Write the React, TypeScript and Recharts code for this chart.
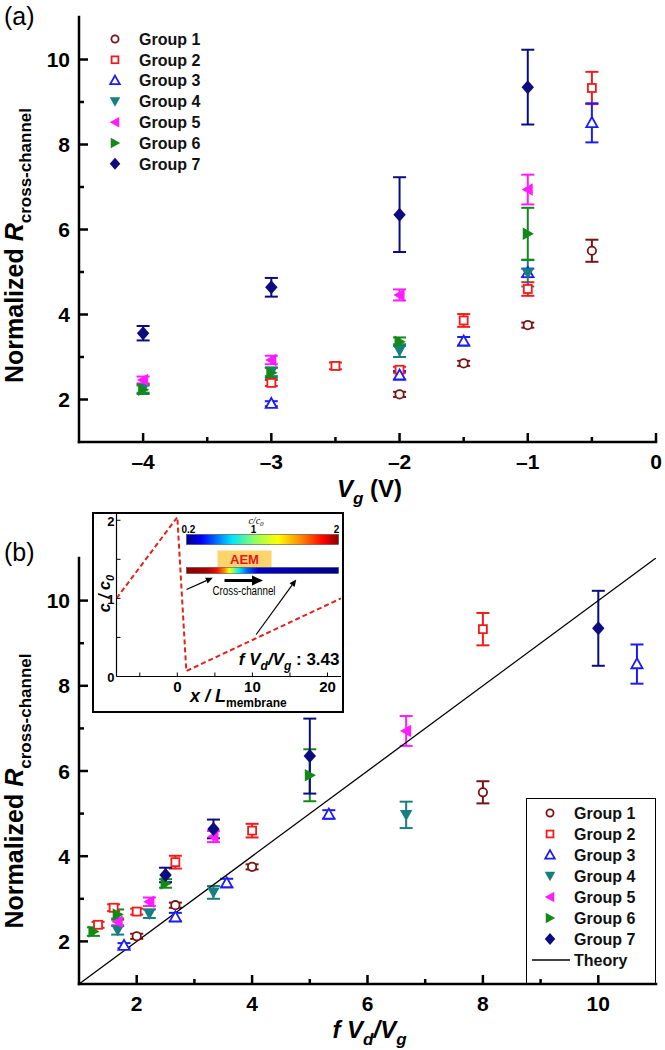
import React from "react";
import { ScatterChart, Scatter, XAxis, YAxis, ErrorBar, Legend } from "recharts";

const FONT = "'Liberation Sans', Arial, Helvetica, sans-serif";

const GROUP_NAMES = ["Group 1", "Group 2", "Group 3", "Group 4", "Group 5", "Group 6", "Group 7"];
const GROUP_COLORS = ["#7a1414", "#f01c1c", "#1c1cf5", "#17807f", "#ff1cff", "#14891a", "#0c0c7e"];
const GROUP_SHAPES = ["circle", "square", "up", "down", "left", "right", "diamond"];

// gate voltage (panel a)
const VG_1 = [-2, -1.5, -1, -0.5];
const VG_2 = [-3, -2.5, -2, -1.5, -1, -0.5];
const VG_3 = [-3, -2, -1.5, -1, -0.5];
const VG_4 = [-4, -3, -2, -1];
const VG_5 = [-4, -3, -2, -1];
const VG_6 = [-4, -3, -2, -1];
const VG_7 = [-4, -3, -2, -1];

// f Vd/Vg (panel b)
const RATIO_1 = [2, 2.67, 4, 8];
const RATIO_2 = [1.33, 1.6, 2, 2.67, 4, 8];
const RATIO_3 = [1.78, 2.67, 3.56, 5.33, 10.67];
const RATIO_4 = [1.67, 2.22, 3.33, 6.67];
const RATIO_5 = [1.67, 2.22, 3.33, 6.67];
const RATIO_6 = [1.25, 1.67, 2.5, 5];
const RATIO_7 = [2.5, 3.33, 5, 10];

// normalized R cross-channel
const R_1 = [2.12, 2.85, 3.75, 5.5];
const R_2 = [2.39, 2.79, 2.7, 3.86, 4.6, 9.33];
const R_3 = [1.9, 2.57, 3.37, 4.98, 8.51];
const R_4 = [2.26, 2.65, 3.15, 4.97];
const R_5 = [2.46, 2.93, 4.46, 6.94];
const R_6 = [2.23, 2.63, 3.36, 5.9];
const R_7 = [3.56, 4.64, 6.35, 9.35];

// error bars (half height)
const ERR_1 = [0.06, 0.06, 0.06, 0.26];
const ERR_2 = [0.07, 0.08, 0.07, 0.15, 0.16, 0.38];
const ERR_3 = [0.06, 0.1, 0.1, 0.1, 0.46];
const ERR_4 = [0.1, 0.1, 0.15, 0.31];
const ERR_5 = [0.08, 0.1, 0.13, 0.35];
const ERR_6 = [0.1, 0.12, 0.1, 0.61];
const ERR_7 = [0.17, 0.22, 0.88, 0.88];

const THEORY_X = [1, 11];
const THEORY_Y = [1, 11];

// inset concentration profile
const INSET_X = [-8.1, 0, 1.2, 21.8];
const INSET_Y = [1.0, 2.04, 0.07, 1.0];

const TICKS_VG = [-4, -3.5, -3, -2.5, -2, -1.5, -1, -0.5, 0];
const TICKS_RATIO = [2, 3, 4, 5, 6, 7, 8, 9, 10];
const TICKS_R = [2, 3, 4, 5, 6, 7, 8, 9, 10];
const INSET_X_TICKS = [-5, 0, 5, 10, 15, 20];
const INSET_Y_TICKS = [0, 0.5, 1, 1.5, 2];

const VG = [VG_1, VG_2, VG_3, VG_4, VG_5, VG_6, VG_7];
const RATIO = [RATIO_1, RATIO_2, RATIO_3, RATIO_4, RATIO_5, RATIO_6, RATIO_7];
const R = [R_1, R_2, R_3, R_4, R_5, R_6, R_7];
const ERR = [ERR_1, ERR_2, ERR_3, ERR_4, ERR_5, ERR_6, ERR_7];

const seriesA = VG.map((xs, g) => xs.map((x, i) => ({ x, y: R[g][i], e: ERR[g][i] })));
const seriesB = RATIO.map((xs, g) => xs.map((x, i) => ({ x, y: R[g][i], e: ERR[g][i] })));
const theory = THEORY_X.map((x, i) => ({ x, y: THEORY_Y[i] }));
const insetProfile = INSET_X.map((x, i) => ({ x, y: INSET_Y[i] }));

const FRAME = { stroke: "#000", strokeWidth: 2.5, strokeLinecap: "square" as const };
const THIN = { stroke: "#000", strokeWidth: 1.2 };

function pts(list: number[][], cx: number, cy: number, s: number) {
  return list.map(([dx, dy]) => `${cx + dx * s},${cy + dy * s}`).join(" ");
}

function Marker({ kind, cx, cy, color, s = 1 }: { kind: string; cx: number; cy: number; color: string; s?: number }) {
  const sw = 1.8;
  switch (kind) {
    case "circle":
      return <circle cx={cx} cy={cy} r={4.2 * s} fill="#fff" stroke={color} strokeWidth={sw} />;
    case "square":
      return <rect x={cx - 4 * s} y={cy - 4 * s} width={8 * s} height={8 * s} fill="#fff" stroke={color} strokeWidth={sw} />;
    case "up":
      return <polygon points={pts([[0, -5.8], [5.6, 4.2], [-5.6, 4.2]], cx, cy, s)} fill="#fff" stroke={color} strokeWidth={sw} />;
    case "down":
      return <polygon points={pts([[-6.2, -5], [6.2, -5], [0, 6.2]], cx, cy, s)} fill={color} />;
    case "left":
      return <polygon points={pts([[-6.2, 0], [5, -6.2], [5, 6.2]], cx, cy, s)} fill={color} />;
    case "right":
      return <polygon points={pts([[6.2, 0], [-5, -6.2], [-5, 6.2]], cx, cy, s)} fill={color} />;
    default:
      return <polygon points={pts([[0, -7], [6.2, 0], [0, 7], [-6.2, 0]], cx, cy, s)} fill={color} />;
  }
}

type TickOpts = {
  isMajor: (v: number) => boolean;
  major: number;
  minor: number;
  sw: number;
  label?: boolean;
  fmt?: (v: number) => string;
  fs?: number;
  gap?: number;
  vshift?: number;
};

const frameTick = (side: string, o: TickOpts) => (p: any) => {
  const { x, y } = p;
  const v = p.payload.value;
  const big = o.isMajor(v);
  const len = big ? o.major : o.minor;
  const fs = o.fs || 20;
  const gap = o.gap || 0;
  const txt = o.fmt ? o.fmt(v) : String(v);
  let line = null;
  let label = null;
  if (side === "left") {
    line = <line x1={x} x2={x + len} y1={y} y2={y} />;
    if (o.label && big)
      label = <text x={x - gap} y={y + fs * (o.vshift || 0.36)} textAnchor="end">{txt}</text>;
  } else if (side === "right") {
    line = <line x1={x - len} x2={x} y1={y} y2={y} />;
  } else if (side === "bottom") {
    line = <line x1={x} x2={x} y1={y - len} y2={y} />;
    if (o.label && big)
      label = <text x={x} y={y + gap} textAnchor="middle">{txt}</text>;
  } else {
    line = <line x1={x} x2={x} y1={y} y2={y + len} />;
  }
  return (
    <g stroke="#000" strokeWidth={o.sw} fontFamily={FONT} fontWeight="bold" fontSize={fs}>
      {line}
      {label && React.cloneElement(label, { stroke: "none", fill: "#000" })}
    </g>
  );
};

const fmtDash = (v: number) => (v < 0 ? "\u2013" + Math.abs(v) : String(v));
const evenMajor = (v: number) => v % 2 === 0;
const intMajor = (v: number) => Number.isInteger(v);

function YTitle({ vb, shift }: { vb: any; shift: number }) {
  const cx = 23;
  const cy = vb.y + vb.height / 2 + shift;
  return (
    <text x={cx} y={cy} transform={`rotate(-90, ${cx}, ${cy})`} textAnchor="middle" fontFamily={FONT} fontWeight="bold" fontSize={25}>
      <tspan>Normalized </tspan>
      <tspan fontStyle="italic">R</tspan>
      <tspan fontSize={17} dy={8}>cross-channel</tspan>
    </text>
  );
}

function XTitleA({ vb }: { vb: any }) {
  return (
    <text x={vb.x + vb.width / 2 + 2} y={vb.y + 55} textAnchor="middle" fontFamily={FONT} fontWeight="bold" fontSize={24}>
      <tspan fontStyle="italic">V</tspan>
      <tspan fontStyle="italic" fontSize={17} dy={7}>g</tspan>
      <tspan dy={-7}> (V)</tspan>
    </text>
  );
}

function XTitleB({ vb }: { vb: any }) {
  return (
    <text x={vb.x + vb.width / 2 + 2} y={vb.y + 54} textAnchor="middle" fontFamily={FONT} fontWeight="bold" fontStyle="italic" fontSize={24}>
      <tspan>f  V</tspan>
      <tspan fontSize={17} dy={7}>d</tspan>
      <tspan dy={-7}>/V</tspan>
      <tspan fontSize={17} dy={7}>g</tspan>
    </text>
  );
}

function LegendRows({ mx, tx, y0, dy, fs, s }: { mx: number; tx: number; y0: number; dy: number; fs: number; s: number }) {
  return (
    <>
      {GROUP_NAMES.map((name, g) => (
        <g key={name}>
          <Marker kind={GROUP_SHAPES[g]} cx={mx} cy={y0 + g * dy} color={GROUP_COLORS[g]} s={s} />
          <text x={tx} y={y0 + g * dy + fs * 0.36} fontFamily={FONT} fontWeight="bold" fontSize={fs} fill="#111">
            {name}
          </text>
        </g>
      ))}
    </>
  );
}

function LegendA() {
  return (
    <svg width={120} height={160} style={{ display: "block" }}>
      <LegendRows mx={15} tx={39} y0={12} dy={20.8} fs={16} s={0.85} />
    </svg>
  );
}

function LegendB() {
  return (
    <div style={{ width: 130, height: 186, border: "1.5px solid #000", boxSizing: "border-box" }}>
      <svg width={128} height={184} style={{ display: "block" }}>
        <LegendRows mx={23} tx={47} y0={14} dy={21} fs={16} s={0.85} />
        <line x1={5} x2={43} y1={161} y2={161} stroke="#000" strokeWidth={1.3} />
        <text x={47} y={161 + 16 * 0.36} fontFamily={FONT} fontWeight="bold" fontSize={16} fill="#111">
          Theory
        </text>
      </svg>
    </div>
  );
}

function groupSeries(data: { x: number; y: number; e: number }[][]) {
  return data.map((d, g) => (
    <Scatter
      key={GROUP_NAMES[g]}
      name={GROUP_NAMES[g]}
      data={d}
      isAnimationActive={false}
      shape={(p: any) => <Marker kind={GROUP_SHAPES[g]} cx={p.cx} cy={p.cy} color={GROUP_COLORS[g]} />}
    >
      <ErrorBar dataKey="e" direction="y" width={6.5} stroke={GROUP_COLORS[g]} strokeWidth={2} />
    </Scatter>
  ));
}

function frameAxes(xDomain: number[], xTicks: number[], xMajor: (v: number) => boolean, xHeight: number, xTitle: any, yShift: number) {
  const big = { major: 9, minor: 5, sw: 2.5 };
  return [
    <XAxis
      key="xb"
      type="number"
      dataKey="x"
      domain={xDomain}
      allowDataOverflow
      ticks={xTicks}
      interval={0}
      height={xHeight}
      tickSize={0}
      tickMargin={0}
      tickLine={false}
      axisLine={FRAME}
      tick={frameTick("bottom", { ...big, isMajor: xMajor, label: true, fmt: fmtDash, fs: 21, gap: 27 })}
      label={(p: any) => xTitle(p.viewBox)}
    />,
    <XAxis
      key="xt"
      xAxisId="t"
      orientation="top"
      type="number"
      dataKey="x"
      domain={xDomain}
      allowDataOverflow
      ticks={xTicks}
      interval={0}
      height={0}
      tickSize={0}
      tickMargin={0}
      tickLine={false}
      axisLine={FRAME}
      tick={frameTick("top", { ...big, isMajor: xMajor })}
    />,
    <YAxis
      key="yl"
      type="number"
      dataKey="y"
      domain={[1, 11]}
      allowDataOverflow
      ticks={TICKS_R}
      interval={0}
      width={79}
      tickSize={0}
      tickMargin={0}
      tickLine={false}
      axisLine={FRAME}
      tick={frameTick("left", { ...big, isMajor: evenMajor, label: true, fs: 21, gap: 9 })}
      label={(p: any) => <YTitle vb={p.viewBox} shift={yShift} />}
    />,
    <YAxis
      key="yr"
      yAxisId="r"
      orientation="right"
      type="number"
      dataKey="y"
      domain={[1, 11]}
      allowDataOverflow
      ticks={TICKS_R}
      interval={0}
      width={0}
      tickSize={0}
      tickMargin={0}
      tickLine={false}
      axisLine={FRAME}
      tick={frameTick("right", { ...big, isMajor: evenMajor })}
    />,
  ];
}

function PanelA() {
  return (
    <ScatterChart width={665} height={512} margin={{ top: 17, right: 9, bottom: 0, left: 0 }}>
      {frameAxes([-4.5, 0], TICKS_VG, intMajor, 70, (vb: any) => <XTitleA vb={vb} />, 16)}
      {groupSeries(seriesA)}
      <Legend
        layout="vertical"
        align="center"
        verticalAlign="middle"
        wrapperStyle={{ left: 100, top: 27, width: 120 }}
        content={() => <LegendA />}
      />
    </ScatterChart>
  );
}

function PanelB() {
  return (
    <ScatterChart width={665} height={550} margin={{ top: 58, right: 9, bottom: 0, left: 0 }}>
      {frameAxes([1, 11], TICKS_RATIO, evenMajor, 66, (vb: any) => <XTitleB vb={vb} />, 20)}
      <Scatter
        name="Theory"
        data={theory}
        isAnimationActive={false}
        line={{ stroke: "#000", strokeWidth: 1.3 }}
        shape={() => <g />}
      />
      {groupSeries(seriesB)}
      <Legend
        layout="vertical"
        align="center"
        verticalAlign="middle"
        wrapperStyle={{ left: 526, top: 298, width: 130 }}
        content={() => <LegendB />}
      />
    </ScatterChart>
  );
}

function Arrow({ x1, y1, x2, y2, w, head }: { x1: number; y1: number; x2: number; y2: number; w: number; head: number }) {
  const a = Math.atan2(y2 - y1, x2 - x1);
  const bx = x2 - Math.cos(a) * head;
  const by = y2 - Math.sin(a) * head;
  const hw = head * 0.45;
  const p1 = `${bx + Math.sin(a) * hw},${by - Math.cos(a) * hw}`;
  const p2 = `${bx - Math.sin(a) * hw},${by + Math.cos(a) * hw}`;
  return (
    <g>
      <line x1={x1} y1={y1} x2={bx} y2={by} stroke="#000" strokeWidth={w} />
      <polygon points={`${x2},${y2} ${p1} ${p2}`} fill="#000" />
    </g>
  );
}

function InsetDecor() {
  return (
    <svg width={247} height={196} style={{ position: "absolute", left: 0, top: 0, pointerEvents: "none" }}>
      <defs>
        <linearGradient id="jet" x1="0" x2="1" y1="0" y2="0">
          <stop offset="0" stopColor="#00008b" />
          <stop offset="0.1" stopColor="#0000ff" />
          <stop offset="0.3" stopColor="#00e5ff" />
          <stop offset="0.45" stopColor="#90ff60" />
          <stop offset="0.6" stopColor="#ffff00" />
          <stop offset="0.75" stopColor="#ff8a00" />
          <stop offset="0.9" stopColor="#ff0000" />
          <stop offset="1" stopColor="#8b0000" />
        </linearGradient>
        <linearGradient id="chan" x1="0" x2="1" y1="0" y2="0">
          <stop offset="0" stopColor="#8b0000" />
          <stop offset="0.13" stopColor="#a80000" />
          <stop offset="0.2" stopColor="#e81010" />
          <stop offset="0.25" stopColor="#ff8a00" />
          <stop offset="0.28" stopColor="#ffff00" />
          <stop offset="0.31" stopColor="#80ff80" />
          <stop offset="0.35" stopColor="#00e0ff" />
          <stop offset="0.4" stopColor="#0060ff" />
          <stop offset="0.47" stopColor="#0000c8" />
          <stop offset="1" stopColor="#00008b" />
        </linearGradient>
      </defs>
      <text x={162} y={9.5} fontFamily="'Liberation Serif', serif" fontStyle="italic" fontSize={10} textAnchor="middle">
        c/c<tspan fontSize={7} dy={2}>0</tspan>
      </text>
      <text x={87.5} y={18.5} fontFamily={FONT} fontWeight="bold" fontSize={10}>0.2</text>
      <text x={159.5} y={18.5} fontFamily={FONT} fontWeight="bold" fontSize={10} textAnchor="middle">1</text>
      <text x={242.5} y={18.5} fontFamily={FONT} fontWeight="bold" fontSize={10} textAnchor="middle">2</text>
      <rect x={92.5} y={20.5} width={152} height={10} fill="url(#jet)" stroke="#333" strokeWidth={0.5} />
      <rect x={123.5} y={36.5} width={54} height={17} fill="#fdd36e" />
      <text x={150.5} y={49.5} fontFamily={FONT} fontWeight="bold" fontSize={13} fill="#e8141c" textAnchor="middle">AEM</text>
      <rect x={92.5} y={53.5} width={152} height={6} fill="url(#chan)" stroke="#333" strokeWidth={0.5} />
      <Arrow x1={130.5} y1={66.5} x2={169} y2={66.5} w={3} head={11} />
      <text x={150} y={80.5} fontFamily="'Liberation Sans Narrow', 'Arial Narrow', sans-serif" fontSize={12} textAnchor="middle" textLength={63} lengthAdjust="spacingAndGlyphs">
        Cross-channel
      </text>
      <Arrow x1={92.5} y1={75.5} x2={118.8} y2={63.8} w={1.2} head={7} />
      <Arrow x1={162.2} y1={120.5} x2={202.2} y2={65.5} w={1.2} head={7} />
      <text x={245.5} y={150.5} fontFamily={FONT} fontWeight="bold" fontSize={17} textAnchor="end">
        <tspan fontStyle="italic">f  V</tspan>
        <tspan fontStyle="italic" fontSize={12} dy={5}>d</tspan>
        <tspan fontStyle="italic" dy={-5}>/V</tspan>
        <tspan fontStyle="italic" fontSize={12} dy={5}>g</tspan>
        <tspan dy={-5}> : 3.43</tspan>
      </text>
      <text x={15.5} y={79.5} transform="rotate(-90, 15.5, 79.5)" fontFamily={FONT} fontWeight="bold" fontStyle="italic" fontSize={16} textAnchor="middle">
        c / c<tspan fontSize={11} dy={4}>0</tspan>
      </text>
      <text x={96} y={187.5} fontFamily={FONT} fontWeight="bold" fontSize={18}>
        <tspan fontStyle="italic">x / L</tspan>
        <tspan fontSize={12} dy={5}>membrane</tspan>
      </text>
    </svg>
  );
}

function Inset() {
  const small = { major: 4, minor: 4, sw: 1 };
  return (
    <div
      style={{
        position: "absolute",
        left: 92,
        top: 512,
        width: 252,
        height: 201,
        border: "2.5px solid #000",
        boxSizing: "border-box",
        background: "#fff",
      }}
    >
      <ScatterChart width={247} height={196} margin={{ top: 0, right: 0, bottom: 0, left: 0 }}>
        <XAxis
          type="number"
          dataKey="x"
          domain={[-8.1, 21.8]}
          allowDataOverflow
          ticks={INSET_X_TICKS}
          interval={0}
          height={33.5}
          tickSize={0}
          tickMargin={0}
          tickLine={false}
          axisLine={THIN}
          tick={frameTick("bottom", { ...small, isMajor: (v) => v % 10 === 0, label: true, fs: 15, gap: 15 })}
        />
        <XAxis
          xAxisId="t"
          orientation="top"
          type="number"
          dataKey="x"
          domain={[-8.1, 21.8]}
          allowDataOverflow
          ticks={INSET_X_TICKS}
          interval={0}
          height={0}
          tickSize={0}
          tickMargin={0}
          tickLine={false}
          axisLine={false}
          tick={frameTick("top", { ...small, isMajor: () => true })}
        />
        <YAxis
          type="number"
          dataKey="y"
          domain={[0, 2.08]}
          allowDataOverflow
          ticks={INSET_Y_TICKS}
          interval={0}
          width={22.5}
          tickSize={0}
          tickMargin={0}
          tickLine={false}
          axisLine={THIN}
          tick={frameTick("left", { ...small, isMajor: intMajor, label: true, fs: 13, gap: 2, vshift: 0.45 })}
        />
        <YAxis
          yAxisId="r"
          orientation="right"
          type="number"
          dataKey="y"
          domain={[0, 2.08]}
          allowDataOverflow
          ticks={INSET_Y_TICKS}
          interval={0}
          width={0}
          tickSize={0}
          tickMargin={0}
          tickLine={false}
          axisLine={false}
          tick={frameTick("right", { ...small, isMajor: () => true })}
        />
        <Scatter
          data={insetProfile}
          isAnimationActive={false}
          line={{ stroke: "#e0231c", strokeWidth: 2, strokeDasharray: "5 3" }}
          shape={() => <g />}
        />
      </ScatterChart>
      <InsetDecor />
    </div>
  );
}

export default function App() {
  return (
    <div style={{ position: "absolute", left: 0, top: 0, width: 665, height: 1050, background: "#fff", overflow: "hidden" }}>
      <div style={{ position: "absolute", left: 0, top: 500 }}>
        <PanelB />
      </div>
      <div style={{ position: "absolute", left: 0, top: 0 }}>
        <PanelA />
      </div>
      <Inset />
      <svg width={665} height={1050} style={{ position: "absolute", left: 0, top: 0, pointerEvents: "none" }}>
        <text x={4} y={25} fontFamily={FONT} fontSize={25}>(a)</text>
        <text x={4} y={561} fontFamily={FONT} fontSize={25}>(b)</text>
      </svg>
    </div>
  );
}
